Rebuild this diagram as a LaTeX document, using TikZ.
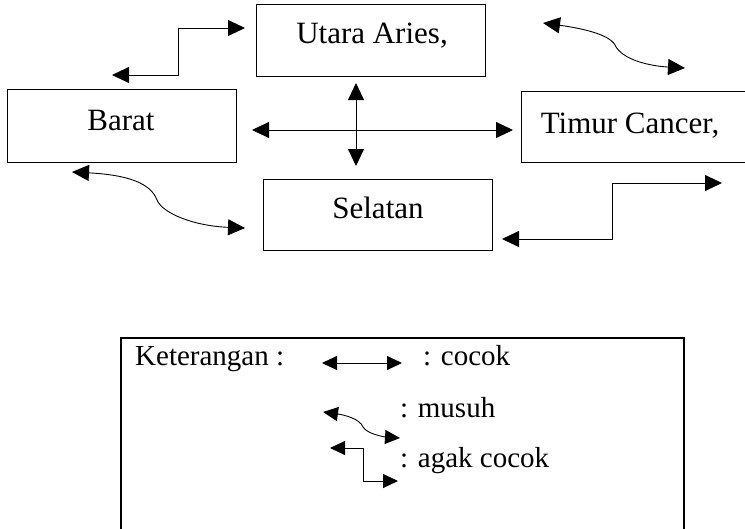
\documentclass[tikz,border=0pt]{standalone}
\usepackage{fontspec}
\setmainfont{Liberation Serif}
\usetikzlibrary{arrows.meta}
\begin{document}
\begin{tikzpicture}[x=1pt,y=-1pt,
  box/.style={draw,line width=0.9pt,rectangle,inner sep=0pt,anchor=north west},
  lbl/.style={inner sep=0pt,font=\fontsize{31}{36}\selectfont},
  lgd/.style={inner sep=0pt,anchor=base west,font=\fontsize{29}{34}\selectfont},
  conn/.style={line width=0.9pt,{Triangle[length=17pt,width=16pt]}-{Triangle[length=17pt,width=16pt]}},
  smallconn/.style={line width=0.9pt,{Triangle[length=15pt,width=14pt]}-{Triangle[length=15pt,width=14pt]}}]
\clip (0,0) rectangle (745,528);
\fill[white] (0,0) rectangle (745,528);
% boxes
\node[box,minimum width=229pt,minimum height=72pt] (utara) at (256,4) {};
\node[box,minimum width=229pt,minimum height=73pt] (barat) at (7,89) {};
\node[box,minimum width=229pt,minimum height=71pt] (selatan) at (263,179) {};
\node[box,minimum width=229pt,minimum height=71pt] (timur) at (521,91) {};
% labels
\node[lbl,anchor=base] (utaraT) at (372,43) {Utara Aries,};
\node[lbl,anchor=base] (baratT) at (121,130) {Barat};
\node[lbl,anchor=base] (timurT) at (630,133) {Timur Cancer,};
\node[lbl,anchor=base] (selatanT) at (378,218) {Selatan};
% connector end points
\coordinate (a1s) at (245,28);
\coordinate (a1e) at (112,75);
\coordinate (a2s) at (356,83);
\coordinate (a2e) at (356,166);
\coordinate (a3s) at (252,130);
\coordinate (a3e) at (513,130);
\coordinate (a4s) at (72,172);
\coordinate (a4m) at (157,200);
\coordinate (a4e) at (245,228);
\coordinate (a5s) at (543,23);
\coordinate (a5m) at (615,45);
\coordinate (a5e) at (685,68);
\coordinate (a6s) at (502,239);
\coordinate (a6e) at (722,183);
% connectors
\draw[conn] (a1s) -- (178,28) -- (178,75) -- (a1e);
\draw[conn] (a2s) -- (a2e);
\draw[conn] (a3s) -- (a3e);
\draw[conn] (a4s) .. controls (130,175) and (151,184) .. (a4m) .. controls (163,214) and (195,226) .. (a4e);
\draw[conn] (a5s) .. controls (580,28) and (609,34) .. (a5m) .. controls (622,60) and (650,66) .. (a5e);
\draw[conn] (a6s) -- (612,239) -- (612,183) -- (a6e);
% legend
\node[draw,line width=2.4pt,rectangle,inner sep=0pt,anchor=north west,minimum width=563pt,minimum height=230pt] (legend) at (120,337) {};
\node[lgd] (ket) at (135,365) {Keterangan :};
\node[lgd] (t1) at (423,365) {: cocok};
\node[lgd] (t2) at (400,417) {: musuh};
\node[lgd] (t3) at (400,467) {: agak cocok};
\coordinate (l1s) at (322,363);
\coordinate (l1e) at (402,363);
\coordinate (l2s) at (323,412);
\coordinate (l2m) at (363,427);
\coordinate (l2e) at (400,438);
\coordinate (l3s) at (330,448);
\coordinate (l3e) at (398,481);
\draw[smallconn] (l1s) -- (l1e);
\draw[smallconn] (l2s) .. controls (345,415) and (360,419) .. (l2m) .. controls (367,434) and (385,437) .. (l2e);
\draw[smallconn] (l3s) -- (363,448) -- (363,481) -- (l3e);
\end{tikzpicture}
\end{document}
